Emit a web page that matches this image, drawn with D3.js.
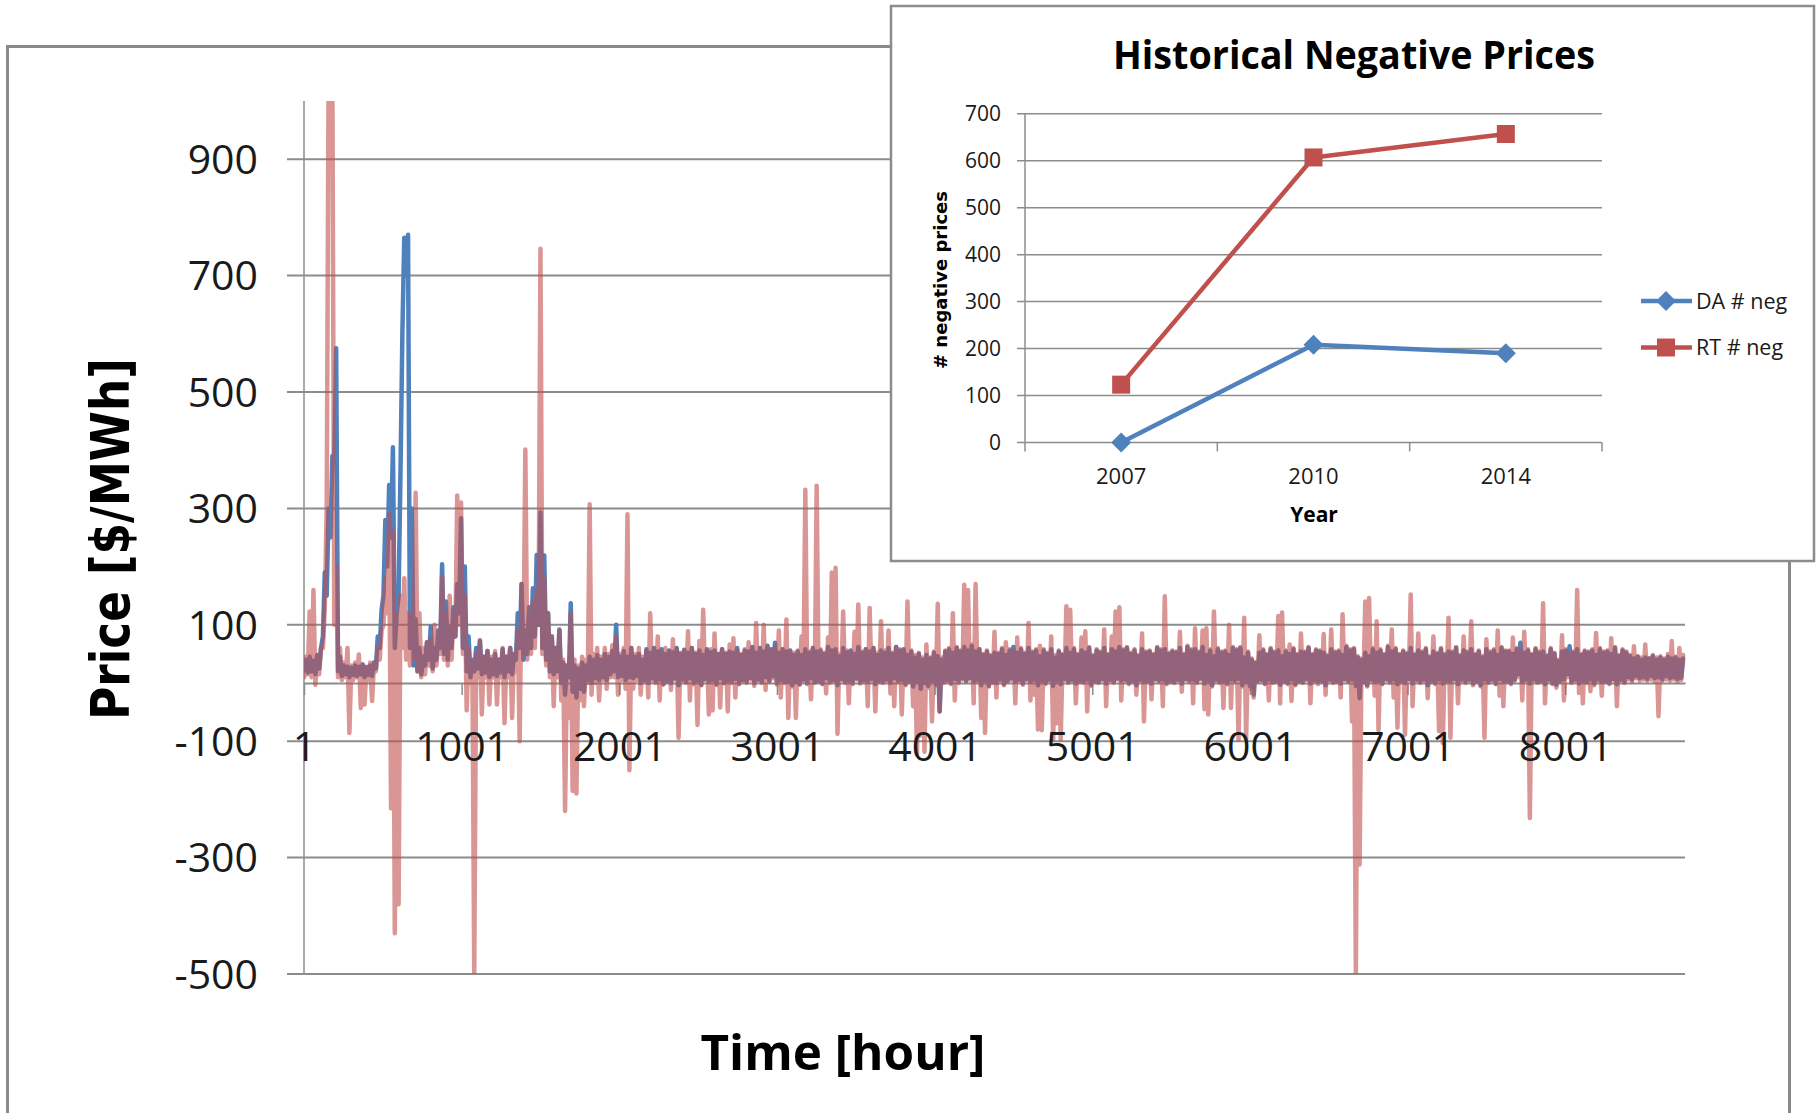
<!DOCTYPE html>
<html>
<head>
<meta charset="utf-8">
<script src="https://cdn.jsdelivr.net/npm/d3@7"></script>
<style>
  body { margin: 0; background: #fff; }
  svg { display: block; }
</style>
</head>
<body>
<div id="chart"></div>
<script>
const hourTicks = [1, 1001, 2001, 3001, 4001, 5001, 6001, 7001, 8001];
const priceTicks = [-500, -300, -100, 100, 300, 500, 700, 900];
const hoursPerDay = 24;

const daLow = [
  22, 18, 20, 15, 25, 80, 150, 250, 380, 20,
  12, 15, 10, 14, 12, 15, 10, 14, 12, 25,
  60, 150, 200, 250, 60, 150, 600, 700, 60, 30,
  20, 15, 30, 40, 25, 40, 60, 50, 40, 60,
  80, 120, 60, 20, 10, 20, 25, 15, 18, 10,
  15, 12, 18, 10, 20, 15, 40, 60, 40, 50,
  60, 80, 100, 60, 40, 20, 15, 20, 0, -20,
  10, -15, -25, -10, -15, 5, 0, 8, 5, 10,
  5, 15, 20, 10, 12, 5, 10, 8, 12, 0,
  5, 0, 8, 2, 6, -2, 4, 0, 8, -4,
  6, 2, 8, 0, 4, -3, 7, 2, 5, -2,
  8, 0, 4, 2, 7, -1, 5, 3, 9, 0,
  6, 2, 10, 4, 12, 0, 5, 2, 3, -4,
  2, -2, 6, 0, 8, 2, 4, -1, 8, 3,
  5, -4, 7, 2, 4, 0, 8, 1, 5, 2,
  7, -2, 4, 2, 6, 0, 8, 4, 5, -2,
  4, -6, 2, -10, 0, -5, 4, -2, -49, 2,
  5, 0, 7, 2, 8, 4, 9, 2, 5, -4,
  4, -5, 2, 0, 6, -2, 4, 8, 2, 6,
  -1, 7, 2, 6, -4, 4, 0, 6, -5, 4,
  -2, 7, 2, 6, -1, 4, 2, 6, -3, 4,
  2, 7, -1, 6, 2, 8, 4, 6, 0, 4,
  -4, 6, 2, 4, -1, 7, 4, 6, 0, 4,
  2, 6, -1, 7, 4, 6, 2, 8, -1, 4,
  -4, 6, 2, 4, -1, 6, 4, 7, -4, 2,
  -5, -20, 4, 6, -1, 6, 2, 4, -3, 4,
  0, 6, -2, 4, 2, 7, -1, 5, 3, 4,
  -4, 6, 2, 4, -1, 7, 4, 6, -5, -26,
  2, -4, 6, 2, 4, -1, 7, 3, 6, -2,
  4, 0, 7, -1, 6, 2, 6, -4, 4, 0,
  6, -1, 4, 2, 7, -2, 6, 2, 6, -1,
  4, -4, 6, 2, 6, -1, 7, 3, 4, 0,
  6, 15, 2, 6, -1, 6, 2, 4, -2, 6,
  0, -3, 4, 6, 15, 2, 6, -1, 4, 2,
  6, -1, 6, 2, 4, 0, 7, -2, 6, 2,
  10, 6, 12, 8, 10, 7, 12, 8, 10, 6,
  12, 8, 10, 7, 9
];

const daHigh = [
  40, 45, 38, 48, 60, 190, 300, 390, 575, 45,
  30, 28, 26, 30, 28, 32, 27, 30, 35, 80,
  125, 280, 340, 405, 120, 362, 765, 770, 300, 110,
  60, 45, 70, 97, 60, 90, 204, 140, 95, 130,
  170, 283, 200, 80, 40, 60, 72, 45, 55, 40,
  50, 40, 58, 45, 60, 50, 120, 170, 90, 130,
  163, 220, 293, 219, 120, 80, 60, 92, 35, 30,
  137, 30, 25, 35, 30, 45, 40, 48, 40, 50,
  45, 55, 100, 45, 55, 45, 60, 45, 50, 40,
  58, 52, 60, 54, 58, 50, 56, 53, 60, 50,
  57, 52, 60, 50, 56, 48, 58, 53, 56, 50,
  58, 50, 54, 52, 60, 48, 56, 54, 62, 52,
  60, 54, 64, 58, 69, 52, 58, 54, 56, 48,
  54, 48, 58, 52, 60, 54, 56, 50, 62, 56,
  58, 46, 60, 53, 56, 50, 62, 52, 58, 54,
  60, 48, 56, 52, 60, 50, 62, 56, 58, 48,
  54, 44, 50, 40, 48, 42, 52, 46, 40, 54,
  58, 52, 60, 54, 62, 56, 64, 54, 58, 48,
  54, 46, 52, 50, 58, 48, 56, 62, 52, 58,
  50, 60, 52, 56, 46, 56, 50, 58, 44, 54,
  48, 60, 52, 58, 48, 56, 52, 60, 46, 56,
  52, 60, 48, 58, 54, 62, 56, 60, 50, 56,
  46, 58, 52, 54, 48, 60, 56, 58, 50, 54,
  52, 60, 48, 62, 56, 58, 52, 62, 48, 56,
  46, 58, 52, 54, 48, 60, 56, 60, 44, 52,
  40, 34, 52, 56, 48, 58, 52, 56, 46, 54,
  50, 58, 48, 54, 52, 60, 48, 56, 54, 52,
  46, 58, 52, 54, 48, 62, 56, 58, 44, 40,
  52, 46, 58, 52, 56, 48, 62, 54, 58, 48,
  54, 50, 60, 48, 56, 52, 58, 44, 54, 50,
  58, 48, 54, 52, 60, 46, 56, 52, 58, 48,
  54, 44, 58, 52, 56, 48, 60, 54, 54, 50,
  58, 69, 52, 56, 48, 58, 52, 54, 46, 58,
  50, 38, 54, 56, 63, 52, 58, 48, 54, 52,
  56, 48, 58, 52, 54, 50, 60, 46, 56, 52,
  46, 42, 45, 40, 44, 42, 46, 40, 44, 40,
  45, 42, 44, 40, 42
];

const rtLow = [
  10, 15, 10, -3, 15, 60, 300, 900, 100, 10,
  5, 10, -86, 5, 10, -43, -37, 5, -31, 20,
  40, 100, 120, -215, -430, -380, 60, 40, 30, 40,
  20, 10, 15, 30, 20, 30, 50, 40, 30, 40,
  80, 100, 50, -47, 0, -500, 10, -54, 10, -37,
  10, -37, 10, -69, 10, -60, 20, -100, 50, 40,
  50, 60, 100, 50, 30, 10, -40, 10, -30, -220,
  -60, -185, -190, -30, -40, 0, -20, 0, -30, 5,
  -10, 10, 10, -20, 5, -10, -150, -10, 5, -20,
  2, -25, 4, 0, -30, -2, 2, -12, 6, -94,
  4, 0, -30, -2, -72, -4, 5, -54, -47, -3,
  -42, 0, -49, 0, -25, -2, 4, 0, 6, -5,
  4, 0, -12, 2, 8, -3, -25, 0, -60, -6,
  -60, -3, 4, -2, -28, 0, 2, -2, -18, 0,
  3, -87, 5, 0, -35, -2, 6, -1, 2, -40,
  4, -49, 2, 0, 4, -18, -40, 2, -54, -4,
  2, -40, -123, -90, -118, -8, -66, -4, -49, 0,
  3, -2, -30, 0, 6, 2, 6, -35, 2, -60,
  -86, -6, 0, -25, 4, -4, 2, 5, -35, 4,
  -3, 5, -30, -20, -80, -81, -2, 4, -97, -69,
  -97, 5, 0, 4, -35, 2, 0, -49, -5, 2,
  0, 5, -40, 4, 0, 6, -30, 4, -2, 2,
  -20, 4, -66, 2, -28, 5, 2, -40, -2, 2,
  0, 4, -15, 5, 2, -35, 0, 6, -45, -54,
  -6, 4, 0, -43, -2, -43, 2, -97, -6, -97,
  -10, -25, 2, 4, -2, -30, 0, 2, -35, 2,
  -2, -31, -4, 2, 0, 5, -35, 3, -2, 2,
  -20, 4, 0, 2, -25, 5, 2, -66, -500, -312,
  0, -6, 4, -22, -81, -2, 5, 0, -25, -77,
  2, -89, 5, -40, 4, 0, 4, -26, 2, -2,
  -83, -103, 2, -94, 5, -35, 4, 0, 4, -4,
  2, -6, -94, 0, 4, -2, -22, -40, 2, -2,
  4, 10, -30, 4, -232, 4, 0, 2, -35, 4,
  -2, -8, 2, -30, 10, 0, 4, -17, -35, 0,
  -14, -4, 4, -22, 2, -2, 5, -40, 4, 0,
  6, 2, 8, 4, 6, 4, 6, 3, -57, 4,
  6, 4, 6, 2, 5
];

const rtHigh = [
  45, 123, 160, 45, 60, 130, 1050, 1050, 200, 60,
  35, 60, 30, 35, 49, 30, 28, 35, 35, 60,
  90, 180, 290, 260, 120, 150, 180, 120, 120, 327,
  120, 60, 70, 75, 100, 80, 183, 120, 150, 120,
  322, 310, 150, 60, 35, 50, 74, 45, 55, 45,
  55, 40, 60, 45, 60, 50, 90, 170, 401, 110,
  140, 160, 746, 180, 120, 80, 60, 90, 40, 30,
  120, 40, 30, 45, 40, 307, 50, 60, 45, 60,
  50, 65, 80, 50, 60, 290, 60, 50, 60, 45,
  55, 120, 58, 80, 52, 60, 54, 75, 58, 52,
  56, 89, 60, 52, 72, 126, 55, 58, 85, 50,
  58, 52, 66, 77, 56, 50, 58, 70, 60, 103,
  58, 100, 62, 56, 62, 90, 58, 109, 54, 52,
  56, 80, 332, 54, 60, 339, 58, 52, 78, 190,
  198, 50, 123, 56, 54, 88, 135, 54, 58, 129,
  60, 52, 106, 56, 90, 52, 62, 58, 56, 140,
  56, 48, 52, 44, 66, 44, 54, 136, 44, 56,
  60, 120, 62, 56, 169, 160, 66, 170, 58, 50,
  56, 48, 88, 52, 60, 70, 58, 55, 78, 60,
  52, 103, 54, 58, 64, 58, 52, 80, 48, 56,
  50, 132, 126, 60, 50, 78, 89, 62, 48, 58,
  54, 92, 50, 80, 123, 130, 58, 62, 52, 58,
  48, 85, 54, 56, 50, 62, 58, 149, 52, 56,
  54, 88, 50, 64, 58, 94, 54, 90, 94, 58,
  123, 60, 54, 56, 100, 62, 58, 62, 112, 54,
  42, 36, 82, 58, 50, 60, 54, 115, 121, 56,
  66, 60, 50, 85, 54, 62, 50, 58, 56, 84,
  48, 92, 54, 56, 118, 64, 58, 60, 46, 42,
  140, 146, 60, 106, 58, 50, 64, 92, 60, 50,
  56, 52, 152, 50, 85, 54, 60, 46, 80, 52,
  60, 50, 112, 54, 62, 48, 80, 54, 106, 50,
  56, 46, 75, 54, 58, 90, 62, 56, 56, 78,
  60, 55, 88, 58, 50, 60, 54, 137, 48, 60,
  52, 40, 82, 58, 50, 54, 160, 50, 56, 54,
  58, 86, 60, 54, 56, 77, 62, 48, 58, 54,
  48, 63, 46, 44, 66, 42, 48, 44, 46, 42,
  50, 72, 45, 60, 48
];

// inset chart
const years = ["2007", "2010", "2014"];
const daNegCounts = [0, 208, 190];
const rtNegCounts = [123, 607, 657];
const countTicks = [0, 100, 200, 300, 400, 500, 600, 700];

document.addEventListener("DOMContentLoaded", () => {
  const width = 1818;
  const height = 1113;
  const blue = "#4F81BD";
  const red = "#C0504D";
  const gridColor = "#8c8c8c";
  const textFont = "'Open Sans', sans-serif";
  const boldFont = "'DejaVu Sans', Verdana, sans-serif";

  const svg = d3
    .select("#chart")
    .append("svg")
    .attr("width", width)
    .attr("height", height);

  // outer frame of the big chart
  svg
    .append("rect")
    .attr("x", 7.5)
    .attr("y", 46.5)
    .attr("width", 1782)
    .attr("height", 1100)
    .attr("fill", "#fff")
    .attr("stroke", "#8a8a8a")
    .attr("stroke-width", 3);

  const x = d3.scaleLinear().domain([1, 8761]).range([304, 1685]);
  const y = d3.scaleLinear().domain([-500, 1000]).range([974, 101]);

  const main = svg.append("g").attr("id", "main");

  svg
    .append("defs")
    .append("clipPath")
    .attr("id", "plot-clip")
    .append("rect")
    .attr("x", x.range()[0])
    .attr("y", y(1000))
    .attr("width", x.range()[1] - x.range()[0] + 6)
    .attr("height", y(-500) - y(1000));

  main
    .append("g")
    .attr("class", "grid")
    .selectAll("line")
    .data(priceTicks)
    .join("line")
    .attr("x1", 287)
    .attr("x2", x.range()[1])
    .attr("y1", (d) => y(d))
    .attr("y2", (d) => y(d))
    .attr("stroke", gridColor)
    .attr("stroke-width", 2);

  main
    .append("line")
    .attr("x1", x(1))
    .attr("x2", x(1))
    .attr("y1", y(1000))
    .attr("y2", y(-500))
    .attr("stroke", gridColor)
    .attr("stroke-width", 1.5);

  // x axis sits at price 0; lines first, labels later on top of the data
  const xAxisLines = d3
    .axisBottom(x)
    .tickValues(hourTicks)
    .tickSizeInner(12)
    .tickSizeOuter(0)
    .tickFormat("");

  const xAxisG = main
    .append("g")
    .attr("transform", `translate(0, ${y(0)})`)
    .call(xAxisLines);
  xAxisG.select(".domain").attr("stroke", gridColor).attr("stroke-width", 2);
  xAxisG.selectAll(".tick line").attr("stroke", gridColor).attr("stroke-width", 1.5);

  // each day gives two points: its low at the start, its high half a day later
  const toSamples = (lows, highs) =>
    lows.flatMap((lo, d) => [
      [1 + d * hoursPerDay, lo],
      [1 + d * hoursPerDay + hoursPerDay / 2, highs[d]],
    ]);

  const priceLine = d3
    .line()
    .x((d) => x(d[0]))
    .y((d) => y(d[1]));

  const series = main.append("g").attr("clip-path", "url(#plot-clip)");

  series
    .append("path")
    .datum(toSamples(daLow, daHigh))
    .attr("d", priceLine)
    .attr("fill", "none")
    .attr("stroke", blue)
    .attr("stroke-width", 4.5)
    .attr("stroke-linejoin", "round")
    .attr("stroke-linecap", "round");

  series
    .append("path")
    .datum(toSamples(rtLow, rtHigh))
    .attr("d", priceLine)
    .attr("fill", "none")
    .attr("stroke", red)
    .attr("stroke-opacity", 0.6)
    .attr("stroke-width", 4.5)
    .attr("stroke-linejoin", "round")
    .attr("stroke-linecap", "round");

  const xAxisLabels = d3
    .axisBottom(x)
    .tickValues(hourTicks)
    .tickSize(12)
    .tickPadding(37)
    .tickFormat(d3.format("d"));

  const xLabelsG = main
    .append("g")
    .attr("transform", `translate(0, ${y(0)})`)
    .call(xAxisLabels);
  xLabelsG.select(".domain").remove();
  xLabelsG.selectAll(".tick line").remove();
  xLabelsG
    .selectAll(".tick text")
    .attr("font-family", textFont)
    .attr("font-size", 41)
    .attr("fill", "#1a1a1a");

  main
    .append("g")
    .selectAll("text")
    .data(priceTicks)
    .join("text")
    .attr("x", 258)
    .attr("y", (d) => y(d))
    .attr("dy", "0.36em")
    .attr("text-anchor", "end")
    .attr("font-family", textFont)
    .attr("font-size", 41)
    .attr("fill", "#1a1a1a")
    .text((d) => d);

  main
    .append("text")
    .attr("transform", "translate(129, 539) rotate(-90)")
    .attr("text-anchor", "middle")
    .attr("font-family", boldFont)
    .attr("font-weight", "bold")
    .attr("font-size", 54)
    .attr("textLength", 362)
    .attr("lengthAdjust", "spacingAndGlyphs")
    .attr("fill", "#000")
    .text("Price [$/MWh]");

  main
    .append("text")
    .attr("x", 843)
    .attr("y", 1070)
    .attr("text-anchor", "middle")
    .attr("font-family", textFont)
    .attr("font-weight", "bold")
    .attr("font-size", 49)
    .attr("textLength", 285)
    .attr("lengthAdjust", "spacingAndGlyphs")
    .attr("fill", "#000")
    .text("Time [hour]");

  // ---- inset: Historical Negative Prices ----
  const inset = svg.append("g").attr("id", "inset");

  inset
    .append("rect")
    .attr("x", 891)
    .attr("y", 6)
    .attr("width", 923)
    .attr("height", 555)
    .attr("fill", "#fff")
    .attr("stroke", gridColor)
    .attr("stroke-width", 2.5);

  const ix = d3.scaleBand().domain(years).range([1025, 1602]);
  const iy = d3.scaleLinear().domain([0, 700]).range([442.4, 113.8]);
  const cx = (d) => ix(d) + ix.bandwidth() / 2;

  inset
    .append("g")
    .selectAll("line")
    .data(countTicks)
    .join("line")
    .attr("x1", 1017)
    .attr("x2", ix.range()[1])
    .attr("y1", (d) => iy(d))
    .attr("y2", (d) => iy(d))
    .attr("stroke", gridColor)
    .attr("stroke-width", 1.5);

  inset
    .append("line")
    .attr("x1", ix.range()[0])
    .attr("x2", ix.range()[0])
    .attr("y1", iy(700))
    .attr("y2", iy(0) + 9)
    .attr("stroke", gridColor)
    .attr("stroke-width", 1.5);

  const bandEdges = years.map((d) => ix(d) + ix.bandwidth());
  inset
    .append("g")
    .selectAll("line")
    .data(bandEdges)
    .join("line")
    .attr("x1", (d) => d)
    .attr("x2", (d) => d)
    .attr("y1", iy(0))
    .attr("y2", iy(0) + 9)
    .attr("stroke", gridColor)
    .attr("stroke-width", 1.5);

  inset
    .append("g")
    .selectAll("text")
    .data(countTicks)
    .join("text")
    .attr("x", 1001)
    .attr("y", (d) => iy(d))
    .attr("dy", "0.36em")
    .attr("text-anchor", "end")
    .attr("font-family", textFont)
    .attr("font-size", 21)
    .attr("fill", "#1a1a1a")
    .text((d) => d);

  inset
    .append("g")
    .selectAll("text")
    .data(years)
    .join("text")
    .attr("x", cx)
    .attr("y", 484)
    .attr("text-anchor", "middle")
    .attr("font-family", textFont)
    .attr("font-size", 22)
    .attr("fill", "#1a1a1a")
    .text((d) => d);

  inset
    .append("text")
    .attr("x", 1314)
    .attr("y", 522)
    .attr("text-anchor", "middle")
    .attr("font-family", textFont)
    .attr("font-weight", "bold")
    .attr("font-size", 21)
    .attr("fill", "#000")
    .text("Year");

  inset
    .append("text")
    .attr("transform", "translate(947, 280) rotate(-90)")
    .attr("text-anchor", "middle")
    .attr("font-family", boldFont)
    .attr("font-weight", "bold")
    .attr("font-size", 17)
    .attr("textLength", 178)
    .attr("lengthAdjust", "spacingAndGlyphs")
    .attr("fill", "#000")
    .text("# negative prices");

  inset
    .append("text")
    .attr("x", 1354)
    .attr("y", 69)
    .attr("text-anchor", "middle")
    .attr("font-family", textFont)
    .attr("font-weight", "bold")
    .attr("font-size", 40)
    .attr("textLength", 482)
    .attr("lengthAdjust", "spacingAndGlyphs")
    .attr("fill", "#000")
    .text("Historical Negative Prices");

  const countLine = d3
    .line()
    .x((d, i) => cx(years[i]))
    .y((d) => iy(d));

  const diamond = d3.symbol(d3.symbolSquare, 200);
  const square = d3.symbol(d3.symbolSquare, 324);

  const insetSeries = [
    { name: "DA # neg", values: daNegCounts, color: blue, marker: diamond, turn: 45 },
    { name: "RT # neg", values: rtNegCounts, color: red, marker: square, turn: 0 },
  ];

  insetSeries.forEach((s, k) => {
    inset
      .append("path")
      .datum(s.values)
      .attr("d", countLine)
      .attr("fill", "none")
      .attr("stroke", s.color)
      .attr("stroke-width", 4.5)
      .attr("stroke-linejoin", "round");

    inset
      .append("g")
      .selectAll("path")
      .data(s.values)
      .join("path")
      .attr("d", s.marker)
      .attr(
        "transform",
        (d, i) => `translate(${cx(years[i])}, ${iy(d)}) rotate(${s.turn})`
      )
      .attr("fill", s.color);

    // legend entry
    const ly = 301 + k * 46.5;
    const legendItem = inset.append("g");
    legendItem
      .append("line")
      .attr("x1", 1641)
      .attr("x2", 1692)
      .attr("y1", ly)
      .attr("y2", ly)
      .attr("stroke", s.color)
      .attr("stroke-width", 4.5);
    legendItem
      .append("path")
      .attr("d", s.marker)
      .attr("transform", `translate(1666, ${ly}) rotate(${s.turn})`)
      .attr("fill", s.color);
    legendItem
      .append("text")
      .attr("x", 1696)
      .attr("y", ly)
      .attr("dy", "0.36em")
      .attr("font-family", textFont)
      .attr("font-size", 21.5)
      .attr("fill", "#1a1a1a")
      .text(s.name);
  });
});
</script>
</body>
</html>
